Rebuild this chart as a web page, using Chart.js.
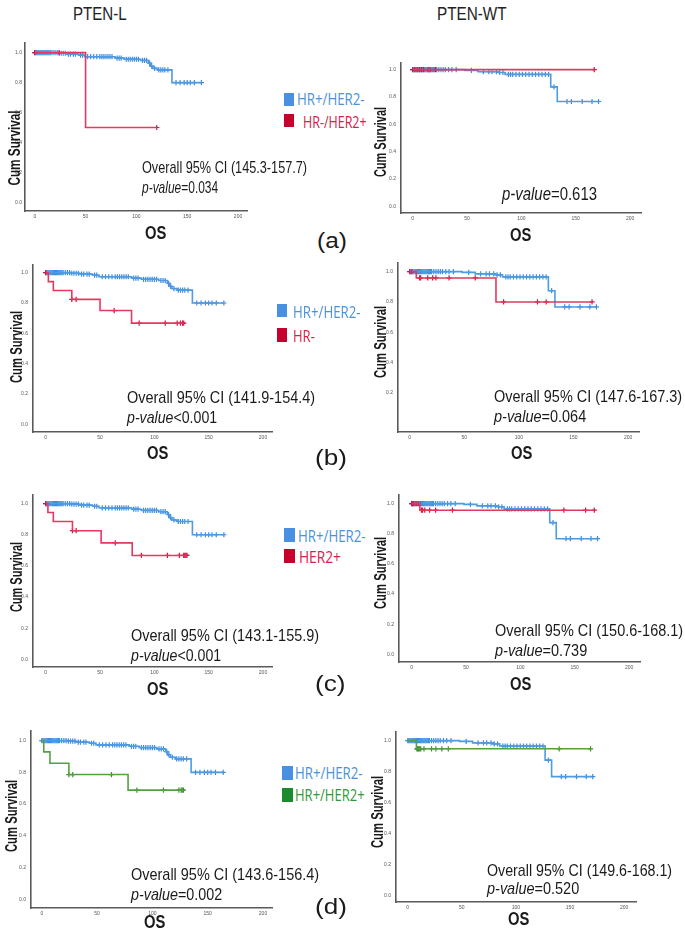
<!DOCTYPE html>
<html><head><meta charset="utf-8">
<script src="https://cdn.jsdelivr.net/npm/chart.js@4.4.1/dist/chart.umd.min.js"></script>
<style>
html,body{margin:0;padding:0;background:#fff;}
body{width:685px;height:937px;overflow:hidden;position:relative;}
canvas.cv{position:absolute;}
.t{position:absolute;white-space:nowrap;line-height:1;}
.sq{position:absolute;}
</style></head><body>
<script>
// ---------------- DATA ----------------
const xTicks = [0, 50, 100, 150, 200];
const yTicks = [0, 0.2, 0.4, 0.6, 0.8, 1.0];
const yTicksNoZero = [0.2, 0.4, 0.6, 0.8, 1.0];

// PTEN-L : HR+/HER2- (reference group, left column)
const lBlueT = [0, 23, 31, 43, 49, 79, 88, 104, 112, 114, 116, 121, 135];
const lBlueS = [1.0, 0.996, 0.99, 0.983, 0.973, 0.964, 0.956, 0.948, 0.93, 0.91, 0.895, 0.885, 0.80];
const lBlueCens = [0,1,2,3,4,5,6,7,8,9,10,11,12,13,14,15,16,18,20,22,24,26,28,30,33,35,38,40,45,47,52,55,58,61,64,66,68,70,72,74,76,81,83,85,90,92,94,96,98,100,102,106,108,110,113,115,118,122,124,126,128,131,139,143,147,150,153,157,164];

// PTEN-WT : HR+/HER2- (reference group, right column)
const rBlueT = [0, 48, 60, 79, 85, 127, 133];
const rBlueS = [1.0, 0.995, 0.985, 0.979, 0.965, 0.874, 0.767];
const rBlueCens = [0,1,2,3,4,5,6,7,8,9,10,11,12,13,14,15,16,17,18,19,20,22,24,26,28,30,33,36,40,54,65,70,73,77,80,83,88,90,92,95,98,101,104,107,110,113,116,119,122,125,130,142,146,156,165,171];

// (a) HR-/HER2+
const aLRedT = [0, 50];
const aLRedS = [1.0, 0.5];
const aLRedCens = [0, 24, 120];
const aRRedT = [0];
const aRRedS = [1.0];
const aRRedCens = [0, 2, 4, 6, 8, 10, 14, 16, 21, 167];

// (b) HR-
const bLRedT = [0, 2.4, 7, 24, 50, 79];
const bLRedS = [1.0, 0.941, 0.882, 0.824, 0.75, 0.667];
const bLRedCens = [0, 24, 28, 63, 86, 110, 121, 124, 126, 127];
const bRRedT = [0, 6, 79];
const bRRedS = [1.0, 0.958, 0.80];
const bRRedCens = [0, 2, 9, 10, 16.5, 21, 24, 36, 60, 86, 117, 125, 167];

// (c) HER2+
const cLRedT = [0, 2, 7, 24.6, 51, 79.6];
const cLRedS = [1.0, 0.943, 0.885, 0.826, 0.748, 0.667];
const cLRedCens = [0, 24.6, 28, 64, 88, 112, 123, 127, 128, 129, 130];
const cRRedT = [0, 7.5];
const cRRedS = [1.0, 0.956];
const cRRedCens = [0, 1, 2, 4, 6, 9, 10, 12, 16.5, 22, 37.5, 140, 160, 168];

// (d) HR+/HER2+
const dLGreenT = [0, 1.8, 7.4, 24.5, 78];
const dLGreenS = [1.0, 0.929, 0.857, 0.786, 0.688];
const dLGreenCens = [24.5, 28, 63, 86, 110, 124, 126, 127, 128];
const dRGreenT = [0, 8];
const dRGreenS = [1.0, 0.947];
const dRGreenCens = [8.5, 9, 10, 11, 12, 15, 22, 26, 31.5, 37.5, 140, 169];

// ---------------- STYLE ----------------
const BLUE = '#4d9be3', BLUE_M = '#3d8be0';
const RED = '#e6385f', RED_M = '#d01040';
const GREEN = '#55a040', GREEN_M = '#3a9030';

const blueL = {t: lBlueT, s: lBlueS, c: lBlueCens, line: BLUE, mark: BLUE_M, order: 1};
const blueR = {t: rBlueT, s: rBlueS, c: rBlueCens, line: BLUE, mark: BLUE_M, order: 1};

const panels = [
  {L:25, R:253, T:37, B:211, X0:35, X200:243, Y1:47, Yz:202, yPad:3, yt:yTicks,
   groups:[blueL, {t:aLRedT, s:aLRedS, c:aLRedCens, line:RED, mark:RED_M, order:0}]},
  {L:401, R:647, T:55, B:213, X0:413, X200:635, Y1:62, Yz:206, yPad:5, yt:yTicks,
   groups:[blueR, {t:aRRedT, s:aRRedS, c:aRRedCens, line:RED, mark:RED_M, order:0}]},
  {L:33, R:278, T:257, B:432, X0:46, X200:268, Y1:265, Yz:424, yPad:5, yt:yTicks,
   groups:[blueL, {t:bLRedT, s:bLRedS, c:bLRedCens, line:RED, mark:RED_M, order:0}]},
  {L:398, R:645, T:255, B:432, X0:410, X200:633, Y1:264, Yz:423, yPad:5, yt:yTicksNoZero,
   groups:[blueR, {t:bRRedT, s:bRRedS, c:bRRedCens, line:RED, mark:RED_M, order:0}]},
  {L:33, R:278, T:487, B:667, X0:46, X200:268, Y1:496, Yz:659, yPad:5, yt:yTicks,
   groups:[blueL, {t:cLRedT, s:cLRedS, c:cLRedCens, line:RED, mark:RED_M, order:0}]},
  {L:399, R:646, T:487, B:662, X0:412, X200:634, Y1:496, Yz:654, yPad:5, yt:yTicks,
   groups:[blueR, {t:cRRedT, s:cRRedS, c:cRRedCens, line:RED, mark:RED_M, order:0}]},
  {L:31, R:278, T:723, B:908, X0:42, X200:268, Y1:733, Yz:899, yPad:5, yt:yTicks,
   groups:[blueL, {t:dLGreenT, s:dLGreenS, c:dLGreenCens, line:GREEN, mark:GREEN_M, order:0}]},
  {L:396, R:642, T:724, B:902, X0:408, X200:629, Y1:733, Yz:895, yPad:5, yt:yTicks,
   groups:[blueR, {t:dRGreenT, s:dRGreenS, c:dRGreenCens, line:GREEN, mark:GREEN_M, order:0}]}
];

function survAt(t, s, x) { let v = s[0]; for (let i = 0; i < t.length; i++) if (t[i] <= x) v = s[i]; return v; }

function groupDatasets(g) {
  const end = Math.max(g.t[g.t.length - 1], ...g.c);
  const pts = g.t.map((v, i) => ({x: v, y: g.s[i]}));
  pts.push({x: end, y: g.s[g.s.length - 1]});
  return [
    {data: pts, showLine: true, stepped: 'before', borderColor: g.line, borderWidth: 1.6,
     pointRadius: 0, fill: false, order: g.order},
    {data: g.c.map(x => ({x, y: survAt(g.t, g.s, x)})), showLine: false, pointStyle: 'cross',
     pointRadius: 2.6, borderColor: g.mark, backgroundColor: g.mark, pointBorderWidth: 1.2, order: g.order}
  ];
}

const YW = 24, XH = 14;
panels.forEach(p => {
  const k = (p.X200 - p.X0) / 200;
  const xmin = -(p.X0 - p.L) / k, xmax = (p.R - p.X0) / k;
  const ky = p.Yz - p.Y1;
  const ymin = -(p.B - p.Yz) / ky, ymax = 1 + (p.Y1 - p.T) / ky;
  const c = document.createElement('canvas');
  c.className = 'cv';
  const w = p.R - p.L + YW, h = p.B - p.T + XH;
  c.width = w; c.height = h;
  c.style.left = (p.L - YW) + 'px'; c.style.top = p.T + 'px';
  c.style.width = w + 'px'; c.style.height = h + 'px';
  document.body.appendChild(c);
  const ds = [];
  p.groups.forEach(g => ds.push(...groupDatasets(g)));
  const tickFont = {size: 5, family: 'Liberation Sans'};
  new Chart(c, {
    type: 'line',
    data: {datasets: ds},
    options: {
      responsive: false, animation: false, events: [], devicePixelRatio: 1,
      layout: {padding: 0},
      plugins: {legend: {display: false}, tooltip: {enabled: false}},
      scales: {
        x: {type: 'linear', min: xmin, max: xmax,
            afterFit: s => { s.height = XH; },
            afterBuildTicks: s => { s.ticks = xTicks.map(v => ({value: v})); },
            grid: {display: false, drawTicks: false},
            border: {display: true, color: '#5a5a5a', width: 1.6},
            ticks: {font: tickFont, color: '#555', padding: 3, maxRotation: 0, autoSkip: false,
                    callback: v => String(v)}},
        y: {type: 'linear', min: ymin, max: ymax,
            afterFit: s => { s.width = YW; },
            afterBuildTicks: s => { s.ticks = p.yt.map(v => ({value: v})); },
            grid: {display: false, drawTicks: false},
            border: {display: true, color: '#5a5a5a', width: 1.6},
            ticks: {font: tickFont, color: '#555', padding: p.yPad, autoSkip: false,
                    callback: v => v.toFixed(1)}}
      }
    }
  });
});

// ---------------- TEXT ----------------
const SANS = '"Liberation Sans", Arial, sans-serif';
const LEG = '"Open Sans", "Liberation Sans", sans-serif';
const texts = [
  {h:'PTEN-L', x:73, cy:13, size:19, w:54, color:'#222'},
  {h:'PTEN-WT', x:437, cy:13, size:19, w:70, color:'#222'},

  {h:'Overall 95% CI (145.3-157.7)', x:142, cy:167, size:17, w:165},
  {h:'<i>p-value</i>=0.034', x:142, cy:187, size:17, w:76},
  {h:'<i>p-value</i>=0.613', x:502, cy:193, size:19, w:95},
  {h:'Overall 95% CI (141.9-154.4)', x:127, cy:397, size:17, w:188},
  {h:'<i>p-value</i>&lt;0.001', x:127, cy:417, size:17, w:90},
  {h:'Overall 95% CI (147.6-167.3)', x:494, cy:396, size:17, w:188},
  {h:'<i>p-value</i>=0.064', x:494, cy:416, size:17, w:92},
  {h:'Overall 95% CI (143.1-155.9)', x:131, cy:635, size:17, w:188},
  {h:'<i>p-value</i>&lt;0.001', x:131, cy:655, size:17, w:90},
  {h:'Overall 95% CI (150.6-168.1)', x:495, cy:630, size:17, w:188},
  {h:'<i>p-value</i>=0.739', x:495, cy:650, size:17, w:92},
  {h:'Overall 95% CI (143.6-156.4)', x:131, cy:874, size:17, w:188},
  {h:'<i>p-value</i>=0.002', x:131, cy:894, size:17, w:91},
  {h:'Overall 95% CI (149.6-168.1)', x:487, cy:870, size:17, w:185},
  {h:'<i>p-value</i>=0.520', x:487, cy:888, size:17, w:92},

  {h:'(a)', x:317, cy:241, size:22, w:30},
  {h:'(b)', x:315, cy:458, size:22, w:32},
  {h:'(c)', x:315, cy:684, size:22, w:31},
  {h:'(d)', x:315, cy:907, size:22, w:32},

  {h:'HR+/HER2-', x:297, cy:99, size:16, w:68, color:'#4a92dc', fam:LEG},
  {h:'HR-/HER2+', x:303, cy:122, size:16, w:64, color:'#d8204a', fam:LEG},
  {h:'HR+/HER2-', x:293, cy:312, size:16, w:68, color:'#4a92dc', fam:LEG},
  {h:'HR-', x:293, cy:336, size:16, w:22, color:'#d8204a', fam:LEG},
  {h:'HR+/HER2-', x:298, cy:536, size:16, w:68, color:'#4a92dc', fam:LEG},
  {h:'HER2+', x:299, cy:557, size:16, w:42, color:'#d8204a', fam:LEG},
  {h:'HR+/HER2-', x:295, cy:773, size:16, w:68, color:'#4a92dc', fam:LEG},
  {h:'HR+/HER2+', x:295, cy:795, size:16, w:70, color:'#2e9a36', fam:LEG}
];
const centered = [];
[[15,148,75],[381,142,70],[17,347,72],[381,342,72],[17,577,70],[381,573,72],[12,816,72],[378,812,72]]
  .forEach(a => centered.push({h:'Cum Survival', cx:a[0], cy:a[1], size:16, w:a[2], bold:true, rot:true}));
[[155,232],[520,234],[157,452],[521,452],[157,688],[520,683],[154,921],[518,918]]
  .forEach(a => centered.push({h:'OS', cx:a[0], cy:a[1], size:19, w:21, bold:true}));

const squares = [
  [284,93,10,13,'#4a90e2'],[284,114,10,13,'#c8002e'],
  [277,304,10,13,'#4a90e2'],[277,328,10,14,'#c8002e'],
  [284,528,11,14,'#4a90e2'],[284,549,11,14,'#c8002e'],
  [282,766,11,14,'#4a90e2'],[282,788,11,14,'#1e8a2e']
];
squares.forEach(s => {
  const d = document.createElement('div'); d.className = 'sq';
  d.style.left = s[0]+'px'; d.style.top = s[1]+'px'; d.style.width = s[2]+'px'; d.style.height = s[3]+'px';
  d.style.background = s[4]; document.body.appendChild(d);
});

function mk(it) {
  const d = document.createElement('div'); d.className = 't';
  d.innerHTML = it.h;
  d.style.fontFamily = it.fam || SANS;
  d.style.fontSize = it.size + 'px';
  d.style.fontWeight = it.bold ? '700' : '400';
  d.style.color = it.color || '#1a1a1a';
  document.body.appendChild(d);
  return d;
}
texts.forEach(it => {
  const d = mk(it);
  const w = d.offsetWidth, h = d.offsetHeight;
  d.style.left = it.x + 'px'; d.style.top = (it.cy - h / 2) + 'px';
  d.style.transformOrigin = 'left center';
  d.style.transform = 'scaleX(' + (it.w / w) + ')';
});
centered.forEach(it => {
  const d = mk(it);
  const w = d.offsetWidth, h = d.offsetHeight;
  d.style.left = (it.cx - w / 2) + 'px'; d.style.top = (it.cy - h / 2) + 'px';
  d.style.transformOrigin = 'center center';
  d.style.transform = (it.rot ? 'rotate(-90deg) ' : '') + 'scaleX(' + (it.w / w) + ')';
});
</script>
</body></html>
